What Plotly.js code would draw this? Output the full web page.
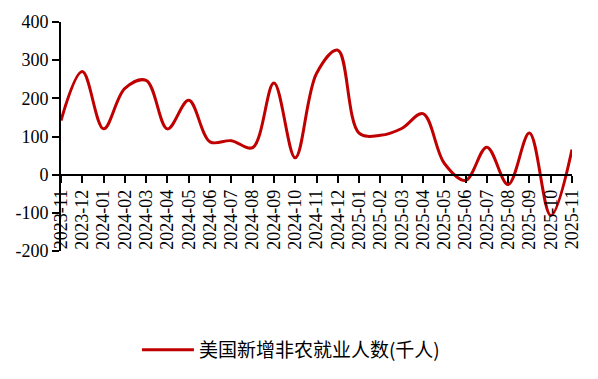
<!DOCTYPE html>
<html>
<head>
<meta charset="utf-8">
<script src="https://cdn.plot.ly/plotly-3.0.1.min.js"></script>
<style>html,body{margin:0;padding:0;background:#fff;}#chart{width:598px;height:379px;}</style>
</head>
<body>
<div id="chart"></div>
<script>
const months = ["2023-11","2023-12","2024-01","2024-02","2024-03","2024-04","2024-05","2024-06","2024-07","2024-08","2024-09","2024-10","2024-11","2024-12","2025-01","2025-02","2025-03","2025-04","2025-05","2025-06","2025-07","2025-08","2025-09","2025-10","2025-11"];
const payrolls = [142,270,120,226,247,120,195,86,89,71,240,44,265,326,109,103,121,160,30,-15,72,-26,109,-107,66];
const seriesName = "美国新增非农就业人数(千人)";
const yTicks = [-200,-100,0,100,200,300,400];

const serif = 'Liberation Serif, Times New Roman, serif';
const trace = {
  x: months, y: payrolls, name: seriesName, type: 'scatter', mode: 'lines',
  line: {color: '#C00000', width: 3, shape: 'spline', smoothing: 1},
  cliponaxis: false
};
const layout = {
  width: 598, height: 379,
  margin: {l: 61, r: 26, t: 22, b: 127},
  paper_bgcolor: '#fff', plot_bgcolor: '#fff',
  showlegend: true,
  legend: {orientation: 'h', x: 0.45, xanchor: 'center', y: -0.426, yanchor: 'middle', itemwidth: 52,
    font: {family: 'Noto Sans CJK SC, sans-serif', size: 19, color: '#000'}},
  xaxis: {
    type: 'category', range: [0, months.length - 1],
    tickmode: 'array', tickvals: months, ticktext: months,
    anchor: 'free', position: 1/3,
    showline: true, linecolor: '#000', linewidth: 2,
    ticks: 'outside', ticklen: 7, tickwidth: 2, tickcolor: '#000',
    tickangle: -90, showgrid: false, zeroline: false,
    tickfont: {family: serif, size: 18, color: '#000'}
  },
  yaxis: {
    range: [-200, 400], tickmode: 'array', tickvals: yTicks, ticktext: yTicks.map(String),
    showline: true, linecolor: '#000', linewidth: 2,
    ticks: 'outside', ticklen: 7, tickwidth: 2, tickcolor: '#000',
    showgrid: false, zeroline: false,
    tickfont: {family: serif, size: 18, color: '#000'}
  }
};
Plotly.newPlot('chart', [trace], layout, {displayModeBar: false, staticPlot: true});
</script>
</body>
</html>
